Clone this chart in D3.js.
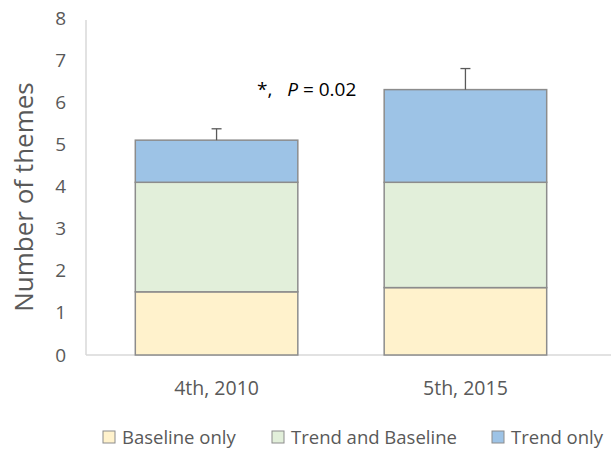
<!DOCTYPE html>
<html>
<head>
<meta charset="utf-8">
<script src="https://cdn.jsdelivr.net/npm/d3@7"></script>
<style>
  body { margin: 0; background: #fff; }
  text { font-family: "Open Sans", "Noto Sans", sans-serif; }
</style>
</head>
<body>
<div id="chart"></div>
<script>
var categories = ["4th, 2010", "5th, 2015"];
var seriesNames = ["Baseline only", "Trend and Baseline", "Trend only"];
var baselineOnly = [1.5, 1.6];
var trendAndBaseline = [2.6, 2.5];
var trendOnly = [1.0, 2.2];
var errorTop = [5.37, 6.8];
var yTicks = [0, 1, 2, 3, 4, 5, 6, 7, 8];

var width = 611;
var height = 449;
var colors = ["#FFF2CC", "#E2EFDA", "#9DC3E6"];

const svg = d3
  .select("#chart")
  .append("svg")
  .attr("width", width)
  .attr("height", height);

const xScale = d3.scaleBand().domain(categories).range([93, 589]).paddingInner(0.347).paddingOuter(0.17);
const yScale = d3.scaleLinear().domain([0, 8]).range([355, 18]);

// stack the series
var rows = categories.map((c, i) => ({
  cat: c,
  "Baseline only": baselineOnly[i],
  "Trend and Baseline": trendAndBaseline[i],
  "Trend only": trendOnly[i]
}));
var stacked = d3.stack().keys(seriesNames)(rows);

// y axis labels
svg
  .append("g")
  .attr("class", "y-axis")
  .attr("transform", "translate(86,0)")
  .call(d3.axisLeft(yScale).tickValues(yTicks).tickSize(0).tickPadding(20))
  .call((g) => g.select(".domain").remove())
  .selectAll("text")
  .style("font-size", "19px")
  .style("fill", "#595959");

// axis lines
svg.append("line")
  .attr("x1", 86).attr("x2", 86)
  .attr("y1", 20).attr("y2", yScale(0))
  .attr("stroke", "#D9D9D9").attr("stroke-width", 1.5);
svg.append("line")
  .attr("x1", 86).attr("x2", 611)
  .attr("y1", yScale(0)).attr("y2", yScale(0))
  .attr("stroke", "#D9D9D9").attr("stroke-width", 1.5);

// bars
svg
  .selectAll(".layer")
  .data(stacked)
  .enter()
  .append("g")
  .attr("fill", (d, i) => colors[i])
  .selectAll("rect")
  .data((d) => d)
  .enter()
  .append("rect")
  .attr("x", (d) => xScale(d.data.cat))
  .attr("y", (d) => yScale(d[1]))
  .attr("width", xScale.bandwidth())
  .attr("height", (d) => yScale(d[0]) - yScale(d[1]))
  .attr("stroke", "#8C8C8C")
  .attr("stroke-width", 1.5);

// error bars
var tops = stacked[stacked.length - 1];
categories.forEach((c, i) => {
  var cx = xScale(c) + xScale.bandwidth() / 2;
  svg.append("line")
    .attr("x1", cx).attr("x2", cx)
    .attr("y1", yScale(tops[i][1])).attr("y2", yScale(errorTop[i]))
    .attr("stroke", "#595959").attr("stroke-width", 1.3);
  svg.append("line")
    .attr("x1", cx - 5).attr("x2", cx + 5)
    .attr("y1", yScale(errorTop[i])).attr("y2", yScale(errorTop[i]))
    .attr("stroke", "#595959").attr("stroke-width", 1.3);
});

// x labels
svg
  .selectAll(".x-label")
  .data(categories)
  .enter()
  .append("text")
  .attr("x", (d) => xScale(d) + xScale.bandwidth() / 2)
  .attr("y", 395)
  .style("text-anchor", "middle")
  .style("font-size", "19.5px")
  .style("fill", "#595959")
  .text((d) => d);

// y axis title
svg
  .append("text")
  .attr("x", -197)
  .attr("y", 33)
  .attr("transform", "rotate(-90)")
  .style("text-anchor", "middle")
  .style("font-size", "26px")
  .style("fill", "#595959")
  .text("Number of themes");

// significance note
var note = svg.append("text")
  .attr("x", 257)
  .attr("y", 96)
  .style("font-size", "19px")
  .style("white-space", "pre")
  .style("fill", "#000");
note.append("tspan").text("*,   ");
note.append("tspan").style("font-style", "italic").text("P");
note.append("tspan").text(" = 0.02");

// legend
var legendX = [103, 272, 492];
var legend = svg
  .selectAll(".legend")
  .data(seriesNames)
  .enter()
  .append("g")
  .attr("transform", (d, i) => `translate(${legendX[i]}, 431)`);

legend
  .append("rect")
  .attr("width", 12)
  .attr("height", 12)
  .attr("fill", (d, i) => colors[i])
  .attr("stroke", "#8C8C8C");

legend
  .append("text")
  .attr("x", 19)
  .attr("y", 12.5)
  .style("font-size", "18.5px")
  .style("fill", "#595959")
  .text((d) => d);
</script>
</body>
</html>
